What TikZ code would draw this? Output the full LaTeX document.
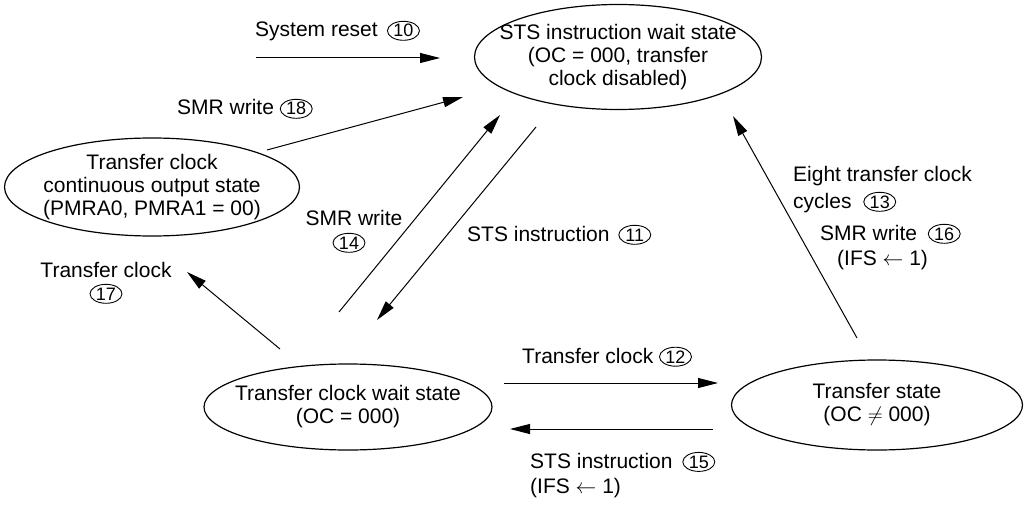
\documentclass[tikz,border=0pt]{standalone}
\usepackage{fontspec}
\setmainfont{Liberation Sans}
\usetikzlibrary{shapes.geometric,arrows.meta}
\newcommand\fs{\fontsize{21}{23}\selectfont}
\tikzset{
  state/.style={draw, ellipse, line width=1.2pt, inner xsep=-60pt, inner ysep=-12pt, align=center, font=\fs},
  lab/.style={anchor=base west, inner sep=0pt, font=\fs},
  clab/.style={anchor=base, inner sep=0pt, font=\fs},
  cnum/.style={draw, ellipse, line width=0.9pt, inner xsep=-4pt, inner ysep=-2pt, minimum width=32pt, minimum height=19pt, font=\fontsize{18}{18}\selectfont, anchor=base},
  arr/.style={line width=1pt, -{Triangle[length=20pt,width=10pt]}},
}
\begin{document}
\begin{tikzpicture}[x=1pt,y=-1pt]
\useasboundingbox (0,0) rectangle (1028,508);
% states
\node[state, minimum width=287pt, minimum height=105pt] (sts) at (618,57) {STS instruction wait state\\(OC = 000, transfer\\clock disabled)};
\node[state, minimum width=295pt, minimum height=98pt] (cont) at (152,187) {Transfer clock\\continuous output state\\(PMRA0, PMRA1 = 00)};
\node[state, minimum width=288pt, minimum height=86pt] (wait) at (348,407) {Transfer clock wait state\\(OC = 000)};
\node[state, minimum width=291pt, minimum height=90pt] (xfer) at (877,405) {Transfer state\\(OC $\neq$ 000)};
% arrow end points
\coordinate (a10s) at (256,58);  \coordinate (a10e) at (440,58);
\coordinate (a18s) at (267,150); \coordinate (a18e) at (463,97);
\coordinate (a14s) at (339,312); \coordinate (a14e) at (500,115);
\coordinate (a11s) at (536,127); \coordinate (a11e) at (377,320);
\coordinate (a17s) at (280,349); \coordinate (a17e) at (187,272);
\coordinate (a13s) at (857,338); \coordinate (a13e) at (733,116);
\coordinate (a12s) at (504,383); \coordinate (a12e) at (718,383);
\coordinate (a15s) at (713,429); \coordinate (a15e) at (510,429);
\draw[arr] (a10s) -- (a10e);
\draw[arr] (a18s) -- (a18e);
\draw[arr] (a14s) -- (a14e);
\draw[arr] (a11s) -- (a11e);
\draw[arr] (a17s) -- (a17e);
\draw[arr] (a13s) -- (a13e);
\draw[arr] (a12s) -- (a12e);
\draw[arr] (a15s) -- (a15e);
% labels
\node[lab] (l10) at (255,37) {System reset};
\node[cnum, xshift=25.5pt] (n10) at (l10.base east) {10};
\node[lab] (l18) at (177,115) {SMR write};
\node[cnum, xshift=22pt] (n18) at (l18.base east) {18};
\node[clab] (l14) at (354,225) {SMR write};
\node[cnum] (n14) at (349,249) {14};
\node[lab] (l11) at (467,241) {STS instruction};
\node[cnum, xshift=25pt] (n11) at (l11.base east) {11};
\node[clab] (l17) at (106,277) {Transfer clock};
\node[cnum] (n17) at (106,300) {17};
\node[lab] (l13a) at (793,182) {Eight transfer clock};
\node[lab] (l13b) at (793,208) {cycles};
\node[cnum, xshift=28pt] (n13) at (l13b.base east) {13};
\node[lab] (l16a) at (820,240) {SMR write};
\node[cnum, xshift=27pt] (n16) at (l16a.base east) {16};
\node[lab] (l16b) at (837,265) {(IFS $\leftarrow$ 1)};
\node[lab] (l12) at (522,363) {Transfer clock};
\node[cnum, xshift=22pt] (n12) at (l12.base east) {12};
\node[lab] (l15a) at (530,468) {STS instruction};
\node[cnum, xshift=26pt] (n15) at (l15a.base east) {15};
\node[lab] (l15b) at (530,493) {(IFS $\leftarrow$ 1)};
\end{tikzpicture}
\end{document}
